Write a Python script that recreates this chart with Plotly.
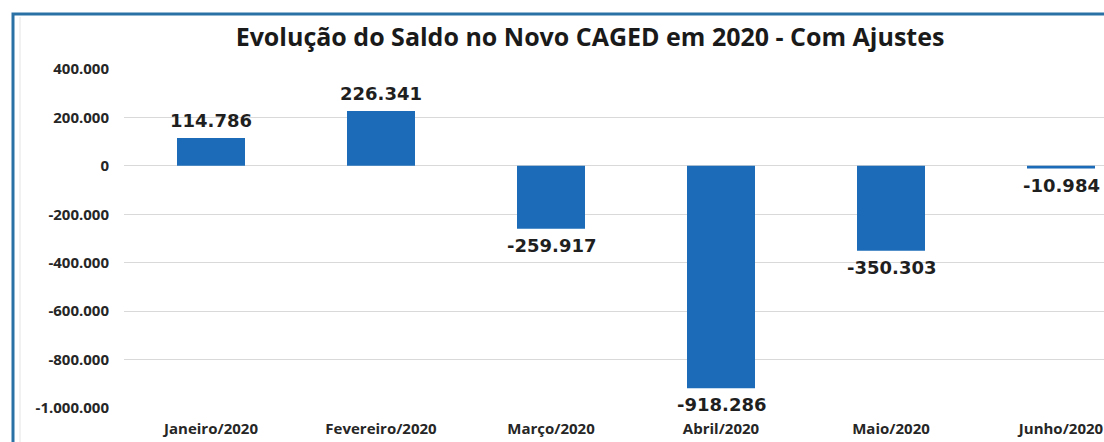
import plotly.graph_objects as go

categories = ["Janeiro/2020", "Fevereiro/2020", "Março/2020", "Abril/2020", "Maio/2020", "Junho/2020"]
saldo = [114786, 226341, -259917, -918286, -350303, -10984]
y_ticks = [400000, 200000, 0, -200000, -400000, -600000, -800000, -1000000]


def br(v):
    s = f"{abs(v):,}".replace(",", ".")
    return ("-" if v < 0 else "") + s


W, H = 1104, 442
ml, mr, mt, mb = 124, 0, 69, 34
pw, ph = W - ml - mr, H - mt - mb

fig = go.Figure(go.Bar(
    x=categories,
    y=saldo,
    width=0.4,
    marker=dict(color="#1B6BB8", line=dict(width=0)),
    hoverinfo="skip",
))

label_font = dict(family="DejaVu Sans", size=18, color="#1f1f1f", weight="bold")
for c, v in zip(categories, saldo):
    fig.add_annotation(
        x=c, y=v, xref="x", yref="y",
        text=br(v), showarrow=False,
        yanchor="bottom" if v >= 0 else "top",
        yshift=5 if v >= 0 else -4,
        font=label_font,
    )

# frame border (extends off the right and bottom edges as in the reference)
def px_x(p):
    return (p - ml) / pw


def px_y(p):
    return (H - mb - p) / ph


fig.add_shape(type="rect", xref="paper", yref="paper",
              x0=px_x(13), x1=px_x(1120), y0=px_y(460), y1=px_y(14),
              line=dict(color="#2A72A6", width=3), layer="above")
fig.add_shape(type="line", xref="paper", yref="paper",
              x0=px_x(20), x1=px_x(20), y0=px_y(460), y1=px_y(17),
              line=dict(color="#E4E4E4", width=1))

fig.update_layout(
    width=W, height=H,
    margin=dict(l=ml, r=mr, t=mt, b=mb),
    paper_bgcolor="white", plot_bgcolor="white",
    showlegend=False,
    title=dict(
        text="<b>Evolução do Saldo no Novo CAGED em 2020 - Com Ajustes</b>",
        x=590 / W, xanchor="center", xref="container",
        y=1 - 37 / H, yanchor="middle", yref="container",
        font=dict(family="Open Sans", size=25, color="#1a1a1a"),
    ),
)
fig.update_xaxes(
    type="category",
    range=[-87 / 170, (W - 211) / 170],
    showgrid=False, zeroline=False, showline=False, ticks="",
    tickfont=dict(family="Open Sans", size=15, color="#262626", weight="bold"),
    ticklabelstandoff=10,
)
fig.update_yaxes(
    range=[-1000000, 400000],
    tickvals=y_ticks,
    ticktext=[br(v) for v in y_ticks],
    showgrid=True, gridcolor="#D9D9D9", gridwidth=1,
    zeroline=True, zerolinecolor="#D9D9D9", zerolinewidth=1,
    showline=False, ticks="",
    tickfont=dict(family="Open Sans", size=15, color="#262626", weight="bold"),
    ticklabelstandoff=14,
)

fig.write_html("out.html", config={"displayModeBar": False},
               post_script="document.body.style.margin='0';")
